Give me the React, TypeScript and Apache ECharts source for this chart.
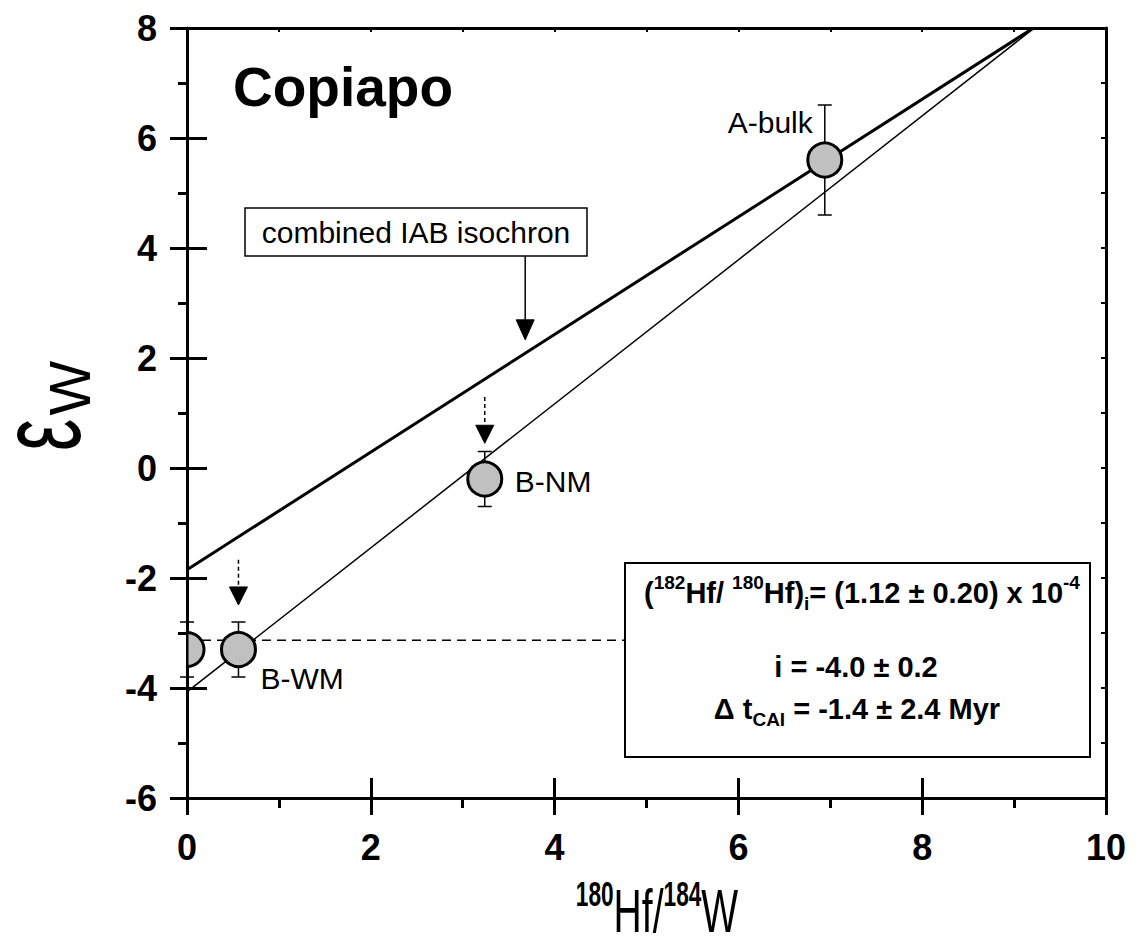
import React, { useEffect, useRef } from "react";
import * as echarts from "echarts";

// ---------- data ----------
const xTicks = { min: 0, max: 10, step: 2 };
const yTicks = { min: -6, max: 8, step: 2 };

const sampleNames = ["", "B-WM", "B-NM", "A-bulk"];
const hfW = [0, 0.56, 3.24, 6.94];
const epsW = [-3.3, -3.3, -0.2, 5.6];
const epsErr = [0.5, 0.5, 0.5, 1.0];

const combinedIsochron = [
  [0, -1.85],
  [9.21, 8],
];
const copiapoIsochron = [
  [0, -4.07],
  [9.22, 8],
];
const initialLevel = [
  [0, -3.13],
  [4.77, -3.13],
];

// arrows: [x, yFrom, yTo]
const dashedArrows = [
  [0.56, -1.67, -2.49],
  [3.24, 1.29, 0.45],
];
const solidArrows = [[3.68, 3.85, 2.33]];

const FONT = "'Liberation Sans', Arial, Helvetica, sans-serif";

function arrowItem(dashed: boolean) {
  return (params: any, api: any) => {
    const x = api.value(0);
    const p1 = api.coord([x, api.value(1)]);
    const p2 = api.coord([x, api.value(2)]);
    const dx = p2[0] - p1[0];
    const dy = p2[1] - p1[1];
    const len = Math.sqrt(dx * dx + dy * dy) || 1;
    const ux = dx / len;
    const uy = dy / len;
    const hl = dashed ? 18 : 20;
    const hw = 9;
    const bx = p2[0] - ux * hl;
    const by = p2[1] - uy * hl;
    return {
      type: "group",
      children: [
        {
          type: "line",
          shape: { x1: p1[0], y1: p1[1], x2: bx, y2: by },
          style: {
            stroke: "#000",
            lineWidth: 1.5,
            lineDash: dashed ? [4, 3] : null,
          },
        },
        {
          type: "polygon",
          shape: {
            points: [
              [p2[0], p2[1]],
              [bx - uy * hw, by + ux * hw],
              [bx + uy * hw, by - ux * hw],
            ],
          },
          style: { fill: "#000", stroke: "#000", lineWidth: 1 },
        },
      ],
    };
  };
}

const labelPlace: Record<string, { dx: number; dy: number; align: string }> = {
  "A-bulk": { dx: -12, dy: -38, align: "right" },
  "B-NM": { dx: 30, dy: 2, align: "left" },
  "B-WM": { dx: 22, dy: 29, align: "left" },
};

const R = 17;

export default function App() {
  const ref = useRef<HTMLDivElement>(null);

  useEffect(() => {
    if (!ref.current) return;
    const chart = echarts.init(ref.current, null, { renderer: "svg" });

    const blackLine = { color: "#000", width: 3 };
    const baseX = {
      type: "value",
      min: xTicks.min,
      max: xTicks.max,
      interval: xTicks.step,
      splitLine: { show: false },
    };
    const baseY = {
      type: "value",
      min: yTicks.min,
      max: yTicks.max,
      interval: yTicks.step,
      splitLine: { show: false },
    };

    const pointData = hfW.map((x, i) => [x, epsW[i], epsErr[i], i]);

    chart.setOption({
      animation: false,
      backgroundColor: "#fff",
      grid: { left: 187, right: 30, top: 28, bottom: 152 },
      xAxis: [
        {
          ...baseX,
          position: "bottom",
          axisLine: { show: true, onZero: false, lineStyle: blackLine },
          axisTick: { show: true, inside: false, length: 17, lineStyle: blackLine },
          minorTick: { show: true, splitNumber: 2, length: 10, lineStyle: blackLine },
          axisLabel: {
            show: true,
            margin: 31,
            color: "#000",
            fontSize: 36,
            fontWeight: "bold",
            fontFamily: FONT,
          },
        },
        {
          ...baseX,
          position: "bottom",
          axisLine: { show: false, onZero: false },
          axisTick: { show: true, inside: true, length: 20, lineStyle: blackLine },
          axisLabel: { show: false },
        },
        {
          ...baseX,
          interval: 1,
          position: "top",
          axisLine: { show: true, onZero: false, lineStyle: blackLine },
          axisTick: { show: true, inside: true, length: 4, lineStyle: { color: "#000", width: 2 } },
          axisLabel: { show: false },
        },
      ],
      yAxis: [
        {
          ...baseY,
          position: "left",
          axisLine: { show: true, onZero: false, lineStyle: blackLine },
          axisTick: { show: true, inside: false, length: 17, lineStyle: blackLine },
          minorTick: { show: true, splitNumber: 2, length: 9, lineStyle: blackLine },
          axisLabel: {
            show: true,
            margin: 30,
            color: "#000",
            fontSize: 36,
            fontWeight: "bold",
            fontFamily: FONT,
          },
        },
        {
          ...baseY,
          position: "left",
          axisLine: { show: false, onZero: false },
          axisTick: { show: true, inside: true, length: 20, lineStyle: blackLine },
          axisLabel: { show: false },
        },
        {
          ...baseY,
          interval: 1,
          position: "right",
          axisLine: { show: true, onZero: false, lineStyle: blackLine },
          axisTick: { show: true, inside: true, length: 5, lineStyle: { color: "#000", width: 2 } },
          axisLabel: { show: false },
        },
      ],
      series: [
        {
          type: "line",
          data: combinedIsochron,
          symbol: "none",
          lineStyle: { color: "#000", width: 3 },
          clip: true,
          z: 2,
        },
        {
          type: "line",
          data: copiapoIsochron,
          symbol: "none",
          lineStyle: { color: "#000", width: 1.5 },
          clip: true,
          z: 2,
        },
        {
          type: "line",
          data: initialLevel,
          symbol: "none",
          lineStyle: { color: "#000", width: 1.5, type: [9, 6] },
          clip: true,
          z: 2,
        },
        {
          type: "custom",
          data: dashedArrows,
          clip: false,
          z: 3,
          renderItem: arrowItem(true),
        },
        {
          type: "custom",
          data: solidArrows,
          clip: false,
          z: 3,
          renderItem: arrowItem(false),
        },
        {
          type: "custom",
          data: pointData,
          clip: false,
          z: 4,
          encode: { x: 0, y: 1 },
          renderItem: (params: any, api: any) => {
            const x = api.value(0);
            const y = api.value(1);
            const e = api.value(2);
            const t = api.coord([x, y + e]);
            const b = api.coord([x, y - e]);
            const hw = 7;
            const st = { stroke: "#000", lineWidth: 1.5 };
            return {
              type: "group",
              children: [
                { type: "line", shape: { x1: t[0], y1: t[1], x2: b[0], y2: b[1] }, style: st },
                { type: "line", shape: { x1: t[0] - hw, y1: t[1], x2: t[0] + hw, y2: t[1] }, style: st },
                { type: "line", shape: { x1: b[0] - hw, y1: b[1], x2: b[0] + hw, y2: b[1] }, style: st },
              ],
            };
          },
        },
        {
          type: "custom",
          data: pointData,
          clip: true,
          z: 5,
          encode: { x: 0, y: 1 },
          renderItem: (params: any, api: any) => {
            const p = api.coord([api.value(0), api.value(1)]);
            const left = api.coord([xTicks.min, yTicks.min])[0];
            const name = sampleNames[api.value(3)];
            const mstyle = { fill: "#c0c0c0", stroke: "#000", lineWidth: 3 };
            const children: any[] = [];
            if (p[0] - R >= left) {
              children.push({
                type: "circle",
                shape: { cx: p[0], cy: p[1], r: R },
                style: mstyle,
              });
            } else {
              // only the part of the marker that lies inside the plot area
              const c = Math.max(-1, Math.min(1, (left - p[0]) / R));
              const a0 = Math.acos(c);
              const pts: number[][] = [];
              const n = 40;
              for (let k = 0; k <= n; k++) {
                const ang = -a0 + (2 * a0 * k) / n;
                pts.push([p[0] + R * Math.cos(ang), p[1] + R * Math.sin(ang)]);
              }
              children.push({ type: "polygon", shape: { points: pts }, style: mstyle });
            }
            const lp = labelPlace[name];
            if (name && lp) {
              children.push({
                type: "text",
                style: {
                  text: name,
                  x: p[0] + lp.dx,
                  y: p[1] + lp.dy,
                  align: lp.align,
                  verticalAlign: "middle",
                  fill: "#000",
                  fontSize: 30,
                  fontFamily: FONT,
                },
              });
            }
            return { type: "group", children };
          },
        },
      ],
      graphic: [
        {
          type: "text",
          z: 10,
          style: {
            text: "Copiapo",
            x: 233,
            y: 87,
            align: "left",
            verticalAlign: "middle",
            fill: "#000",
            fontSize: 55,
            fontWeight: "bold",
            fontFamily: FONT,
          },
        },
        {
          type: "rect",
          z: 10,
          shape: { x: 245, y: 208, width: 342, height: 48 },
          style: { fill: "#fff", stroke: "#000", lineWidth: 1.5 },
        },
        {
          type: "text",
          z: 11,
          style: {
            text: "combined IAB isochron",
            x: 416,
            y: 232,
            align: "center",
            verticalAlign: "middle",
            fill: "#000",
            fontSize: 30,
            fontFamily: FONT,
          },
        },
        {
          type: "rect",
          z: 10,
          shape: { x: 625, y: 563, width: 465, height: 194 },
          style: { fill: "#fff", stroke: "#000", lineWidth: 2 },
        },
        {
          type: "text",
          z: 11,
          style: {
            text: "({s|182}Hf/ {s|180}Hf){b|i}= (1.12 ± 0.20) x 10{s|-4}",
            x: 862,
            y: 593,
            align: "center",
            verticalAlign: "middle",
            fill: "#000",
            fontSize: 29,
            fontWeight: "bold",
            fontFamily: FONT,
            lineHeight: 40,
            rich: {
              s: { fontSize: 19, fontWeight: "bold", fontFamily: FONT, verticalAlign: "top", lineHeight: 19 },
              b: { fontSize: 19, fontWeight: "bold", fontFamily: FONT, verticalAlign: "bottom", lineHeight: 19 },
            },
          },
        },
        {
          type: "text",
          z: 11,
          style: {
            text: "i = -4.0 ± 0.2",
            x: 856,
            y: 667,
            align: "center",
            verticalAlign: "middle",
            fill: "#000",
            fontSize: 29,
            fontWeight: "bold",
            fontFamily: FONT,
          },
        },
        {
          type: "text",
          z: 11,
          style: {
            text: "Δ t{c|CAI} = -1.4 ± 2.4 Myr",
            x: 857,
            y: 709,
            align: "center",
            verticalAlign: "middle",
            fill: "#000",
            fontSize: 29,
            fontWeight: "bold",
            fontFamily: FONT,
            lineHeight: 40,
            rich: {
              c: { fontSize: 19, fontWeight: "bold", fontFamily: FONT, verticalAlign: "bottom", lineHeight: 19 },
            },
          },
        },
        // y axis title
        {
          type: "text",
          z: 10,
          x: 40,
          y: 435,
          rotation: Math.PI / 2,
          scaleX: 0.62,
          style: {
            text: "ε",
            x: 0,
            y: 0,
            align: "center",
            verticalAlign: "middle",
            fill: "#000",
            fontSize: 116,
            fontFamily: FONT,
          },
        },
        {
          type: "text",
          z: 10,
          x: 69,
          y: 388,
          rotation: Math.PI / 2,
          style: {
            text: "W",
            x: 0,
            y: 0,
            align: "center",
            verticalAlign: "middle",
            fill: "#000",
            fontSize: 58,
            fontFamily: FONT,
          },
        },
        // x axis title
        {
          type: "text",
          z: 10,
          x: 657,
          y: 910,
          scaleX: 0.63,
          style: {
            text: "{s|180}Hf/{s|184}W",
            x: 0,
            y: 0,
            align: "center",
            verticalAlign: "middle",
            fill: "#000",
            fontSize: 62,
            fontFamily: FONT,
            lineHeight: 70,
            rich: {
              s: { fontSize: 36, fontWeight: "bold", fontFamily: FONT, verticalAlign: "top", lineHeight: 36 },
            },
          },
        },
      ],
    });

    return () => chart.dispose();
  }, []);

  return (
    <div
      ref={ref}
      style={{ position: "absolute", left: 0, top: 0, width: 1136, height: 950, background: "#fff" }}
    />
  );
}
